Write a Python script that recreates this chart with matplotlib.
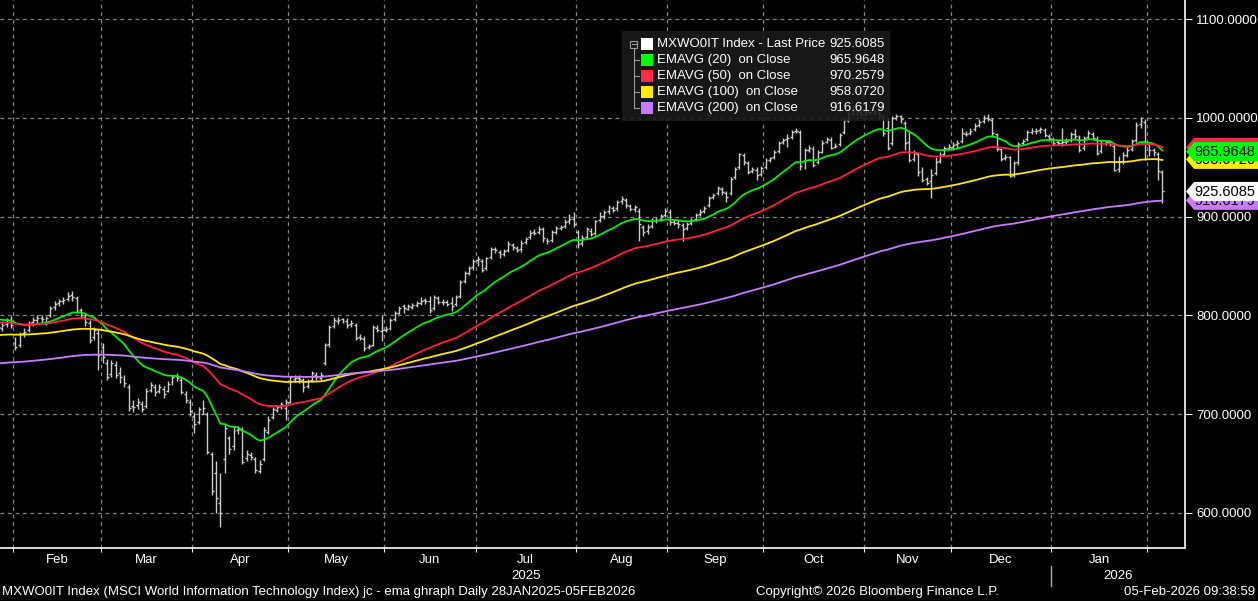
import numpy as np
import pandas as pd
import matplotlib
matplotlib.use('Agg')
import matplotlib.pyplot as plt
from matplotlib.collections import LineCollection
from matplotlib.patches import Polygon, Rectangle
from matplotlib.transforms import blended_transform_factory

plt.rcParams['font.family'] = ['Liberation Sans', 'DejaVu Sans']

# trading days shown on the chart
START = '2025-01-28'
END = '2026-02-05'

# daily OHLC of MXWO0IT
OPEN = [
    795, 787, 791, 795, 772, 770, 782, 785, 793, 795,
    797, 793, 800, 809, 813, 815, 817, 821, 818, 806,
    798, 792, 778, 782, 768, 752, 741, 750, 742, 736,
    728, 708, 709, 710, 708, 725, 728, 724, 726, 724,
    733, 739, 735, 720, 712, 698, 692, 700, 700, 660,
    640, 610, 655, 676, 668, 684, 684, 656, 659, 655,
    642, 655, 682, 697, 704, 707, 706, 712, 736, 737,
    735, 729, 735, 740, 737, 752, 771, 789, 794, 796,
    794, 791, 790, 778, 776, 768, 770, 787, 784, 785,
    787, 796, 803, 810, 807, 809, 811, 813, 816, 815,
    808, 818, 814, 814, 813, 812, 820, 835, 843, 849,
    856, 855, 848, 859, 867, 864, 862, 866, 871, 868,
    867, 874, 879, 885, 885, 888, 876, 876, 885, 889,
    891, 896, 898, 885, 873, 879, 886, 884, 897, 901,
    906, 909, 909, 916, 917, 911, 908, 906, 890, 886,
    891, 897, 898, 902, 905, 895, 894, 892, 889, 894,
    898, 903, 906, 912, 920, 924, 928, 924, 924, 940,
    950, 963, 954, 946, 947, 943, 950, 957, 960, 967,
    976, 979, 981, 987, 986, 956, 968, 969, 955, 966,
    976, 978, 971, 974, 986, 998, 1005, 1008, 1006, 1004,
    1006, 1005, 1006, 1002, 990, 975, 1000, 1002, 995, 976,
    958, 964, 946, 938, 936, 944, 956, 964, 970, 971,
    974, 977, 984, 985, 989, 993, 997, 1000, 998, 984,
    969, 959, 960, 942, 955, 975, 979, 986, 987, 988,
    988, 982, 979, 976, 975, 976, 978, 984, 981, 970,
    981, 984, 979, 967, 975, 976, 972, 948, 956, 963,
    969, 978, 994, 996, 974, 968, 964, 945,
]
HIGH = [
    800, 794, 797, 799, 778, 783, 787, 794, 798, 800,
    800, 799, 810, 815, 817, 819, 824, 825, 820, 808,
    801, 795, 788, 786, 772, 756, 755, 754, 748, 740,
    731, 714, 716, 713, 727, 733, 731, 731, 729, 734,
    740, 742, 738, 724, 715, 702, 707, 714, 702, 662,
    653, 640, 689, 678, 687, 688, 687, 664, 662, 657,
    654, 687, 698, 707, 709, 712, 715, 739, 740, 740,
    737, 736, 744, 743, 743, 772, 790, 798, 798, 797,
    797, 795, 792, 781, 779, 771, 790, 790, 800, 789,
    797, 805, 810, 812, 812, 813, 815, 819, 818, 820,
    821, 820, 817, 816, 819, 821, 836, 845, 850, 857,
    860, 857, 859, 869, 869, 866, 867, 875, 873, 870,
    876, 879, 887, 888, 891, 890, 878, 887, 891, 892,
    898, 903, 905, 887, 881, 890, 889, 897, 905, 907,
    912, 911, 917, 921, 919, 913, 912, 909, 892, 893,
    899, 900, 903, 909, 908, 897, 897, 894, 895, 899,
    904, 908, 911, 921, 924, 931, 930, 926, 940, 950,
    965, 965, 956, 950, 950, 951, 959, 961, 968, 977,
    980, 984, 988, 990, 988, 970, 973, 972, 968, 978,
    981, 981, 975, 985, 1000, 1006, 1011, 1010, 1008, 1009,
    1009, 1009, 1007, 1003, 1000, 1002, 1004, 1003, 997, 988,
    968, 966, 950, 940, 948, 960, 966, 972, 974, 976,
    978, 990, 987, 990, 995, 999, 1003, 1004, 1000, 985,
    970, 964, 962, 956, 976, 979, 988, 990, 990, 991,
    990, 984, 981, 978, 990, 980, 986, 989, 983, 982,
    988, 986, 982, 978, 978, 977, 974, 962, 966, 971,
    979, 996, 1001, 999, 976, 970, 966, 947,
]
LOW = [
    782, 784, 788, 787, 765, 768, 778, 783, 789, 792,
    792, 790, 798, 806, 810, 812, 815, 815, 803, 797,
    789, 772, 775, 745, 752, 735, 738, 737, 732, 728,
    703, 702, 705, 702, 706, 722, 718, 721, 716, 722,
    730, 734, 720, 711, 698, 681, 690, 700, 660, 618,
    600, 586, 640, 660, 664, 680, 650, 653, 654, 640,
    640, 653, 680, 695, 702, 705, 694, 711, 733, 732,
    722, 727, 733, 735, 734, 750, 768, 787, 791, 792,
    787, 788, 775, 775, 764, 766, 769, 783, 774, 783,
    785, 794, 801, 802, 806, 807, 809, 811, 812, 803,
    806, 812, 811, 810, 805, 810, 818, 833, 841, 846,
    850, 844, 846, 857, 863, 858, 860, 864, 866, 864,
    864, 872, 877, 882, 883, 874, 872, 874, 883, 887,
    889, 893, 890, 868, 870, 877, 880, 882, 895, 898,
    903, 905, 906, 913, 909, 906, 905, 875, 880, 883,
    889, 894, 896, 900, 892, 892, 889, 875, 887, 892,
    896, 901, 904, 910, 918, 922, 922, 915, 922, 938,
    948, 952, 943, 944, 937, 941, 948, 955, 958, 965,
    974, 971, 979, 985, 947, 948, 966, 950, 953, 965,
    975, 969, 970, 972, 984, 996, 1002, 1002, 1000, 1002,
    1003, 1003, 999, 982, 968, 973, 998, 995, 968, 955,
    956, 941, 935, 932, 919, 942, 954, 962, 968, 968,
    970, 975, 982, 983, 987, 991, 995, 997, 981, 967,
    956, 957, 940, 940, 952, 973, 977, 984, 984, 985,
    981, 977, 973, 973, 972, 974, 976, 979, 966, 968,
    979, 978, 963, 965, 973, 972, 946, 945, 953, 961,
    967, 976, 990, 957, 962, 962, 937, 914,
]
CLOSE = [
    788, 790, 793, 790, 768, 781, 783, 792, 795, 797,
    796, 797, 808, 812, 815, 816, 820, 819, 805, 800,
    793, 775, 785, 760, 758, 738, 752, 740, 738, 732,
    706, 707, 712, 705, 724, 730, 722, 728, 720, 731,
    738, 737, 722, 714, 703, 690, 705, 706, 662, 622,
    615, 600, 686, 665, 683, 685, 652, 660, 657, 643,
    650, 684, 694, 705, 707, 710, 712, 738, 737, 736,
    728, 734, 742, 738, 740, 770, 788, 795, 795, 794,
    790, 792, 777, 777, 767, 769, 788, 785, 785, 786,
    795, 803, 808, 808, 810, 811, 813, 815, 815, 806,
    819, 814, 814, 812, 810, 819, 834, 843, 848, 855,
    857, 846, 858, 867, 866, 862, 865, 872, 869, 866,
    873, 877, 884, 884, 888, 878, 875, 885, 889, 890,
    895, 898, 893, 872, 878, 888, 883, 896, 901, 905,
    910, 907, 915, 918, 912, 908, 910, 893, 885, 890,
    897, 897, 901, 906, 895, 894, 893, 888, 893, 897,
    902, 905, 909, 919, 922, 929, 925, 920, 938, 948,
    964, 955, 945, 948, 942, 949, 957, 959, 966, 975,
    978, 980, 986, 987, 951, 968, 970, 952, 966, 975,
    979, 970, 972, 983, 998, 1004, 1008, 1007, 1004, 1006,
    1006, 1007, 1003, 985, 970, 1000, 1002, 999, 975, 957,
    965, 945, 937, 934, 942, 955, 963, 970, 971, 973,
    975, 985, 984, 987, 992, 996, 1000, 999, 985, 969,
    958, 961, 941, 954, 974, 977, 986, 987, 987, 989,
    983, 980, 975, 975, 976, 977, 984, 982, 968, 980,
    985, 980, 965, 975, 976, 974, 947, 955, 963, 968,
    977, 993, 997, 975, 968, 966, 946, 925.6,
]

# EMA spans and their level just before the first shown day (read at left edge)
EMA_SPANS = [20, 50, 100, 200]
EMA_SEEDS = [797, 793, 780, 751]
EMA_COLORS = ['#00ee00', '#ff2040', '#ffe800', '#c77dff']

LEGEND_LABELS = ['MXWO0IT Index - Last Price', 'EMAVG (20)  on Close', 'EMAVG (50)  on Close',
                 'EMAVG (100)  on Close', 'EMAVG (200)  on Close']
LEGEND_VALUES = [925.6085, 965.9648, 970.2579, 958.0720, 916.6179]
LEGEND_COLORS = ['#ffffff', '#00ff00', '#ff2845', '#ffee00', '#c97bff']

Y_TICKS = [600, 700, 800, 900, 1000, 1100]

FOOT_LEFT = 'MXWO0IT Index (MSCI World Information Technology Index) jc - ema ghraph Daily 28JAN2025-05FEB2026'
FOOT_MID = 'Copyright\u00a9 2026 Bloomberg Finance L.P.'
FOOT_RIGHT = '05-Feb-2026 09:38:59'


def ema(values, span, seed):
    s = pd.Series([seed] + list(values))
    return s.ewm(span=span, adjust=False).mean().to_numpy()[1:]


dates = pd.bdate_range(START, END)
n = len(dates)
x = np.arange(n)

W, H = 1258, 601
fig = plt.figure(figsize=(W / 100, H / 100), dpi=100, facecolor='black')
ax = fig.add_axes([0, 1 - 548 / H, 1185 / W, 548 / H], facecolor='black')

# OHLC bars
segs = []
for i, (o, h, l, c) in enumerate(zip(OPEN, HIGH, LOW, CLOSE)):
    segs.append([(i, l), (i, h)])
    segs.append([(i - 0.45, o), (i, o)])
    segs.append([(i, c), (i + 0.45, c)])
ax.add_collection(LineCollection(segs, colors='#cccccc', linewidths=1.0, zorder=2))

# moving averages
for span, seed, col in zip(EMA_SPANS, EMA_SEEDS, EMA_COLORS):
    ax.plot(x, ema(CLOSE, span, seed), color=col, lw=1.3, zorder=3)

ax.set_xlim(0.45, n - 1 + 5.2)
ax.set_ylim(564.5, 1119.5)

# month boundaries
starts = [i for i in range(1, n) if dates[i].month != dates[i - 1].month]
bounds = [s - 0.5 for s in starts]
ax.set_xticks(bounds)
ax.set_yticks(Y_TICKS)
ax.yaxis.tick_right()
ax.set_yticklabels([f'{v:.4f}' for v in Y_TICKS])
ax.tick_params(axis='x', direction='out', length=3, color='white', labelbottom=False)
ax.tick_params(axis='y', direction='out', length=5, color='white', labelcolor='white',
               labelsize=9.5, pad=3)
ax.grid(True, color='#858585', linestyle=(0, (3, 3)), linewidth=0.9)
ax.set_axisbelow(True)
for side in ['left', 'top']:
    ax.spines[side].set_visible(False)
for side in ['right', 'bottom']:
    ax.spines[side].set_color('white')
    ax.spines[side].set_linewidth(1.2)

# month and year labels
tr = blended_transform_factory(ax.transData, fig.transFigure)
for k in range(len(bounds) - 1):
    mid = (bounds[k] + bounds[k + 1]) / 2
    ax.text(mid, 1 - 560 / H, dates[starts[k]].strftime('%b'), transform=tr,
            color='white', fontsize=9.5, ha='center', va='center', clip_on=False)
ystart = [s for s in starts if dates[s].year != dates[s - 1].year][0] - 0.5
x0, x1 = ax.get_xlim()
for yr, mid in [(dates[0].year, (x0 + ystart) / 2), (dates[-1].year, (ystart + x1) / 2)]:
    ax.text(mid, 1 - 576 / H, str(yr), transform=tr, color='white', fontsize=9.5,
            ha='center', va='center', clip_on=False)
ax.plot([ystart, ystart], [1 - 566 / H, 1 - 586 / H], transform=tr, color='#aaaaaa',
        lw=1, clip_on=False)

# overlay in pixel coordinates
ov = fig.add_axes([0, 0, 1, 1], facecolor='none')
ov.set_xlim(0, W)
ov.set_ylim(H, 0)
ov.axis('off')


def ypix(v):
    return H - ax.transData.transform((0, v))[1]


# price tags on the right axis, later ones cover earlier ones
for k, idx in enumerate([2, 3, 1, 4, 0]):
    yc = ypix(LEGEND_VALUES[idx])
    ov.add_patch(Polygon([(1186, yc), (1194, yc - 9.5), (W, yc - 9.5), (W, yc + 9.5),
                          (1194, yc + 9.5)], closed=True, facecolor=LEGEND_COLORS[idx],
                         edgecolor='none', zorder=10 + 2 * k))
    ov.text(1194, yc + 0.5, f'{LEGEND_VALUES[idx]:.4f}', color='black', fontsize=10.5,
            ha='left', va='center', zorder=11 + 2 * k)

# legend box
ov.add_patch(Rectangle((622, 31), 268, 90, facecolor='#1b1b1b', alpha=0.88,
                       edgecolor='none', zorder=4))
rows = [44, 60, 76, 92, 108]
ov.add_patch(Rectangle((630, 40.5), 7, 7, facecolor='none', edgecolor='#9a9a9a', lw=0.8,
                       zorder=5))
ov.plot([631.5, 635.5], [44, 44], color='#9a9a9a', lw=0.8, zorder=5)
ov.plot([633.5, 633.5], [47.5, rows[-1]], color='#9a9a9a', lw=0.8, zorder=5)
for yr_ in rows[1:]:
    ov.plot([633.5, 639], [yr_, yr_], color='#9a9a9a', lw=0.8, zorder=5)
for yr_, lab, val, col in zip(rows, LEGEND_LABELS, LEGEND_VALUES, LEGEND_COLORS):
    ov.add_patch(Rectangle((641, yr_ - 6), 12, 12, facecolor=col, edgecolor='none', zorder=5))
    ov.text(657, yr_, lab, color='white', fontsize=9.5, ha='left', va='center', zorder=6)
    ov.text(885, yr_, f'{val:.4f}', color='white', fontsize=9.5, ha='right', va='center',
            zorder=6)

# footer
ov.text(2, 592, FOOT_LEFT, color='white', fontsize=9.5, ha='left', va='center')
ov.text(877, 592, FOOT_MID, color='white', fontsize=9.5, ha='center', va='center')
ov.text(1255, 592, FOOT_RIGHT, color='white', fontsize=9.5, ha='right', va='center')

fig.savefig('out.png', dpi=100, facecolor='black')
